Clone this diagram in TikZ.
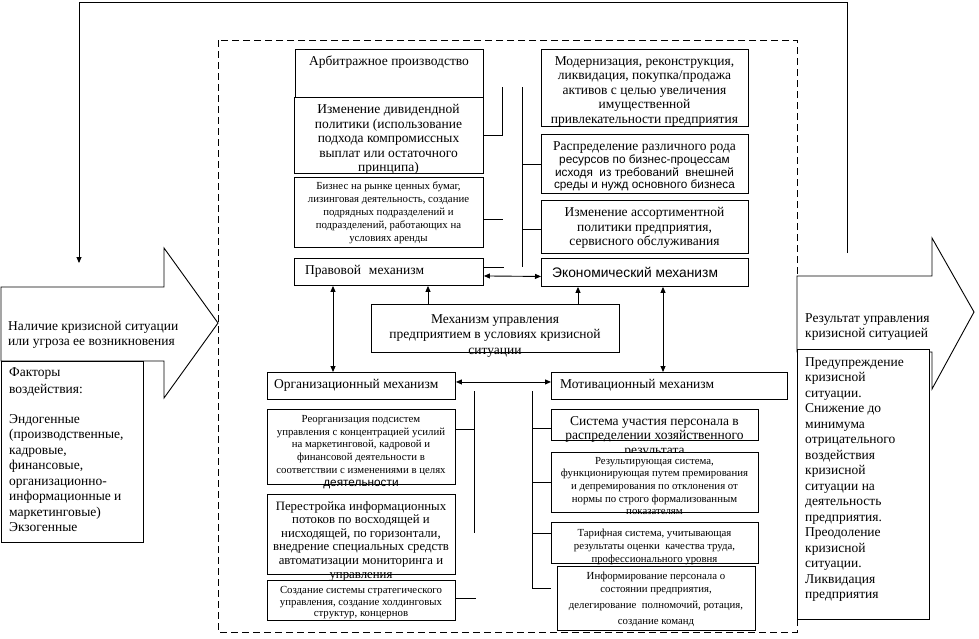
\documentclass[tikz,border=0pt]{standalone}
\usepackage{fontspec}
\setmainfont{Liberation Serif}
\newfontfamily\sansfam{Liberation Sans}
\usetikzlibrary{arrows.meta,calc}
\newcommand\fsM{\fontsize{13.5}{14.6}\selectfont}
\newcommand\fsL{\fontsize{13.5}{15.5}\selectfont}
\newcommand\fsS{\fontsize{10.8}{12.8}\selectfont}
\newcommand\fsSans{\sansfam\fontsize{11.8}{13}\selectfont}
\begin{document}
\begin{tikzpicture}[x=1pt,y=-1pt,
  box/.style={draw, line width=0.9pt, fill=white, inner sep=0, anchor=north west},
  txt/.style={align=center, inner sep=0, anchor=north, font=\fsM},
  stxt/.style={align=center, inner sep=0, anchor=north, font=\fsS},
  conn/.style={draw, line width=0.9pt},
  arr/.style={draw, line width=0.9pt, -{Triangle[length=6pt,width=5pt]}},
  darr/.style={draw, line width=0.9pt, {Triangle[length=6pt,width=5pt]}-{Triangle[length=6pt,width=5pt]}},
  frame/.style={draw, line width=0.9pt, dash pattern=on 7pt off 4pt}]
\useasboundingbox (0,0) rectangle (979,638);
\fill[white] (0,0) rectangle (979,638);

% dashed frame
\draw[frame] (218,40) rectangle (797,632);

% feedback loop
\coordinate (fbS) at (847,253);
\coordinate (fbE) at (79,263);
\draw[arr] (fbS) -- (847,2) -| (fbE);

% left arrow
\draw[line width=0.9pt, fill=white] (1,287) -- (164,287) -- (164,248) -- (218,323) -- (164,398) -- (164,361) -- (1,361) -- cycle;
\node[anchor=north west, align=left, inner sep=0, font=\fsM] (inTxt) at (8,321) {Наличие кризисной ситуации\\или угроза ее возникновения};
\node[box, minimum width=142, minimum height=181] (fact) at (1,361) {};
\node[anchor=north west, align=left, inner sep=0, font=\fsL] (factT) at (9,367) {Факторы\\[2pt]воздействия:\\[14pt]Эндогенные\\(производственные,\\кадровые,\\финансовые,\\организационно-\\информационные и\\маркетинговые)\\Экзогенные};

% right arrow
\draw[line width=0.9pt, fill=white] (797,276) -- (932,276) -- (932,238) -- (974,312) -- (932,389) -- (932,352) -- (797,352) -- cycle;
\node[anchor=north west, align=left, inner sep=0, font=\fsL] (outTxt) at (805,313) {Результат управления\\кризисной ситуацией};
\node[box, minimum width=132, minimum height=270] (res) at (797,349) {};
\node[anchor=north west, align=left, inner sep=0, font=\fsL] (resT) at (805,357) {Предупреждение\\кризисной\\ситуации.\\Снижение до\\минимума\\отрицательного\\воздействия\\кризисной\\ситуации на\\деятельность\\предприятия.\\Преодоление\\кризисной\\ситуации.\\Ликвидация\\предприятия};

% ---- upper left boxes
\node[box, minimum width=188, minimum height=48] (b1) at (295,49) {};
\node[txt] (b1t) at (389,56) {Арбитражное производство};
\node[box, minimum width=189, minimum height=76] (b2) at (294,97) {};
\node[txt] (b2t) at (388.5,104) {Изменение дивидендной\\политики (использование\\подхода компромиссных\\выплат или остаточного\\принципа)};
\node[box, minimum width=189, minimum height=70] (b3) at (294,177) {};
\node[stxt] (b3t) at (388.5,182) {Бизнес на рынке ценных бумаг,\\лизинговая деятельность, создание\\подрядных подразделений и\\подразделений, работающих на\\условиях аренды};
\node[box, minimum width=189, minimum height=27] (b4) at (294,258) {};
\node[anchor=west, inner sep=0, font=\fsM] (b4t) at (305,271.5) {Правовой\hspace{8pt}механизм};

% ---- upper right boxes
\node[box, minimum width=207, minimum height=77] (b5) at (541,49) {};
\node[txt] (b5t) at (644.5,56) {Модернизация, реконструкция,\\ликвидация, покупка/продажа\\активов с целью увеличения\\имущественной\\привлекательности предприятия};
\node[box, minimum width=207, minimum height=59] (b6) at (541,134) {};
\node[txt] (b6t) at (644.5,141) {Распределение различного рода\\[-1pt]{\fsSans ресурсов по бизнес-процессам}\\[-2pt]{\fsSans исходя\ \ из требований\ \ внешней}\\[-2pt]{\fsSans среды и нужд основного бизнеса}};
\node[box, minimum width=207, minimum height=53] (b7) at (541,200) {};
\node[txt] (b7t) at (644.5,207) {Изменение ассортиментной\\политики предприятия,\\сервисного обслуживания};
\node[box, minimum width=207, minimum height=28] (b8) at (541,258) {};
\node[anchor=west, inner sep=0, font=\sansfam\fontsize{13.8}{14}\selectfont] (b8t) at (552,272) {Экономический механизм};

% connectors upper area
\coordinate (j1) at (502,87);
\draw[conn] (b2.east) -- (b2.east -| j1) -- (j1);
\draw[conn] ([yshift=-7pt]b3.east) -- ++(19,0);
\draw[conn] ([yshift=4.5pt]b4.east) -- ++(20,0);
\coordinate (v1t) at (522,87);
\coordinate (v1b) at (522,267);
\draw[conn] (v1t) -- (v1b);
\draw[conn] (b6.west -| v1t) -- (b6.west);
\draw[conn] ([yshift=-2pt]b7.west -| v1t) -- ([yshift=-2pt]b7.west);
\draw[darr] ([yshift=-4pt]b4.east) -- ([yshift=-4pt]b8.west);

% central box
\node[box, minimum width=248, minimum height=48] (mech) at (371,304) {};
\node[txt, font=\fsL] (mecht) at (495,314) {Механизм управления\\предприятием в условиях кризисной\\ситуации};
\draw[arr] ([xshift=57pt]mech.north west) -- ([xshift=57pt]mech.north west |- b4.south);
\draw[arr] ([xshift=207pt]mech.north west) -- ([xshift=207pt]mech.north west |- b8.south);

% mechanism boxes lower
\node[box, minimum width=188, minimum height=27] (org) at (267,372) {};
\node[anchor=west, inner sep=0, font=\fsM] (orgt) at (274,385.5) {Организационный механизм};
\node[box, minimum width=236, minimum height=27] (mot) at (551,372) {};
\node[anchor=west, inner sep=0, font=\fsM] (mott) at (560,385.5) {Мотивационный механизм};
\draw[darr] ([xshift=39pt]b4.south west) -- ([xshift=39pt]b4.south west |- org.north);
\draw[darr] ([xshift=122pt]b8.south west) -- ([xshift=122pt]b8.south west |- mot.north);
\draw[darr] ([yshift=4pt]org.east) -- ([yshift=4pt]mot.west);

% lower left boxes
\node[box, minimum width=188, minimum height=75] (reorg) at (267,409) {};
\node[stxt] (reorgt) at (361,415) {Реорганизация подсистем\\управления с концентрацией усилий\\на маркетинговой, кадровой и\\финансовой деятельности в\\соответствии с изменениями в целях\\{\fsSans деятельности}};
\node[box, minimum width=188, minimum height=80] (per) at (267,494) {};
\node[txt, font=\fontsize{12.8}{13.6}\selectfont] (pert) at (361,501) {Перестройка информационных\\потоков по восходящей и\\нисходящей, по горизонтали,\\внедрение специальных средств\\автоматизации мониторинга и\\управления};
\node[box, minimum width=188, minimum height=40] (crt) at (267,580) {};
\node[stxt, font=\fontsize{10.8}{11.8}\selectfont] (crtt) at (361,586) {Создание системы стратегического\\управления, создание холдинговых\\структур, концернов};
\coordinate (v2t) at (474,391);
\coordinate (v2b) at (474,533);
\draw[conn] (v2t) -- (v2b);
\draw[conn] ([yshift=18pt]reorg.east) -- ([yshift=18pt]reorg.east -| v2t);
\draw[conn] ([yshift=2pt]crt.east) -- ++(20,0);

% lower right boxes
\node[box, minimum width=198, minimum height=64] (inf) at (557,566) {};
\node[stxt] (inft) at (656,572) {Информирование персонала о\\состоянии предприятия,\\[3pt]делегирование\ \ полномочий, ротация,\\[3pt]создание команд};
\node[box, minimum width=207, minimum height=31] (sys) at (551,409) {};
\node[txt] (syst) at (654.5,416) {Система участия персонала в\\распределении хозяйственного\\результата};
\node[box, minimum width=207, minimum height=60] (rs) at (551,452) {};
\node[stxt, font=\fontsize{10.8}{12.6}\selectfont] (rst) at (654.5,457) {Результирующая система,\\функционирующая путем премирования\\и депремирования по отклонения от\\нормы по строго формализованным\\показателям};
\node[box, minimum width=207, minimum height=41] (tar) at (551,522) {};
\node[stxt] (tart) at (654.5,529) {Тарифная система, учитывающая\\результаты оценки\ \ качества труда,\\профессионального уровня};
\coordinate (v3t) at (532,391);
\coordinate (v3b) at (532,588);
\draw[conn] (v3t) -- (v3b);
\draw[conn] ([yshift=-3pt]sys.west -| v3t) -- ([yshift=-3pt]sys.west);
\draw[conn] (rs.west -| v3t) -- (rs.west);
\draw[conn] ([yshift=9.5pt]tar.west -| v3t) -- ([yshift=9.5pt]tar.west);
\draw[conn] (v3b) -- ++(19,0);
\end{tikzpicture}
\end{document}
